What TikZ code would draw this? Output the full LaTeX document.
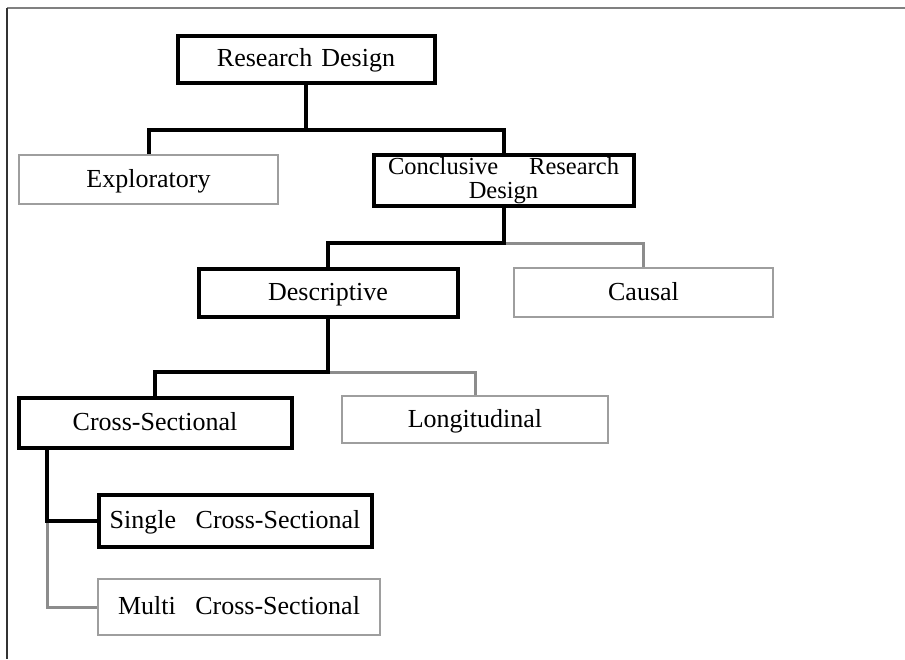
\documentclass[tikz,border=0pt]{standalone}
\usepackage{fontspec}
\setmainfont{Liberation Serif}
\usetikzlibrary{shadows}
\begin{document}
\begin{tikzpicture}[x=1pt,y=-1pt,
  box/.style={rectangle, inner sep=0pt, font=\fontsize{26}{25}\selectfont, fill=white,
    text height=18pt, text depth=3pt,
    drop shadow={shadow xshift=1.3pt, shadow yshift=-1.3pt, opacity=0.35, fill=black!50}},
  strongbox/.style={box, draw=black, line width=4pt},
  lightbox/.style={box, draw=black!38, line width=1.8pt},
  bk/.style={draw=black, line width=4pt, line join=miter},
  gy/.style={draw=black!45, line width=3pt, line join=miter},
]
\useasboundingbox (0,0) rectangle (905,659);
\fill[white] (0,0) rectangle (905,659);
% frame
\coordinate (fo) at (7,8);
\coordinate (fr) at (905,8);
\coordinate (fb) at (7,659);
\draw[black!50, line width=1.2pt] (fo) -- (fr);
\draw[black!80, line width=1.5pt] (fo) -- (fb);

% nodes
\node[strongbox, minimum width=257, minimum height=47] (rd) at (306,59) {Research\hspace{0.35em}Design};
\node[lightbox, minimum width=259, minimum height=49] (expl) at (148.5,179.5) {Exploratory};
\node[strongbox, font=\fontsize{24.5}{24}\selectfont, text height=, text depth=, minimum width=260, minimum height=51, text width=231, align=center] (conc) at (503.5,180.5) {Conclusive\hfill Research\\Design};
\node[strongbox, minimum width=259, minimum height=48] (desc) at (328,292.5) {Descriptive};
\node[lightbox, minimum width=259, minimum height=49] (causal) at (643.5,292.5) {Causal};
\node[strongbox, minimum width=273, minimum height=50] (cross) at (155,422.5) {Cross-Sectional};
\node[lightbox, minimum width=266, minimum height=47] (longi) at (475,419.5) {Longitudinal};
\node[strongbox, minimum width=273, minimum height=52] (single) at (235,520.5) {Single\hspace{0.75em}Cross-Sectional};
\node[lightbox, minimum width=282, minimum height=56] (multi) at (239,607) {Multi\hspace{0.75em}Cross-Sectional};

% bus coordinates
\coordinate (b1) at (0,130);
\coordinate (b2) at (0,243);
\coordinate (b3) at (0,372);
\coordinate (v4) at (47,0);

% level 1
\draw[bk] (rd.south) -- (rd.south |- b1);
\draw[bk] (expl.north) |- (rd.south |- b1) -| (conc.north);

% level 2
\draw[gy] (conc.south |- b2) -| (causal.north);
\draw[bk] (desc.north) |- (conc.south |- b2) -- (conc.south);

% level 3
\draw[gy] (desc.south |- b3) -| (longi.north);
\draw[bk] (cross.north) |- (desc.south |- b3) -- (desc.south);

% level 4
\draw[gy] (single.west -| v4) |- (multi.west);
\draw[bk] (cross.south -| v4) |- (single.west);
\end{tikzpicture}
\end{document}
